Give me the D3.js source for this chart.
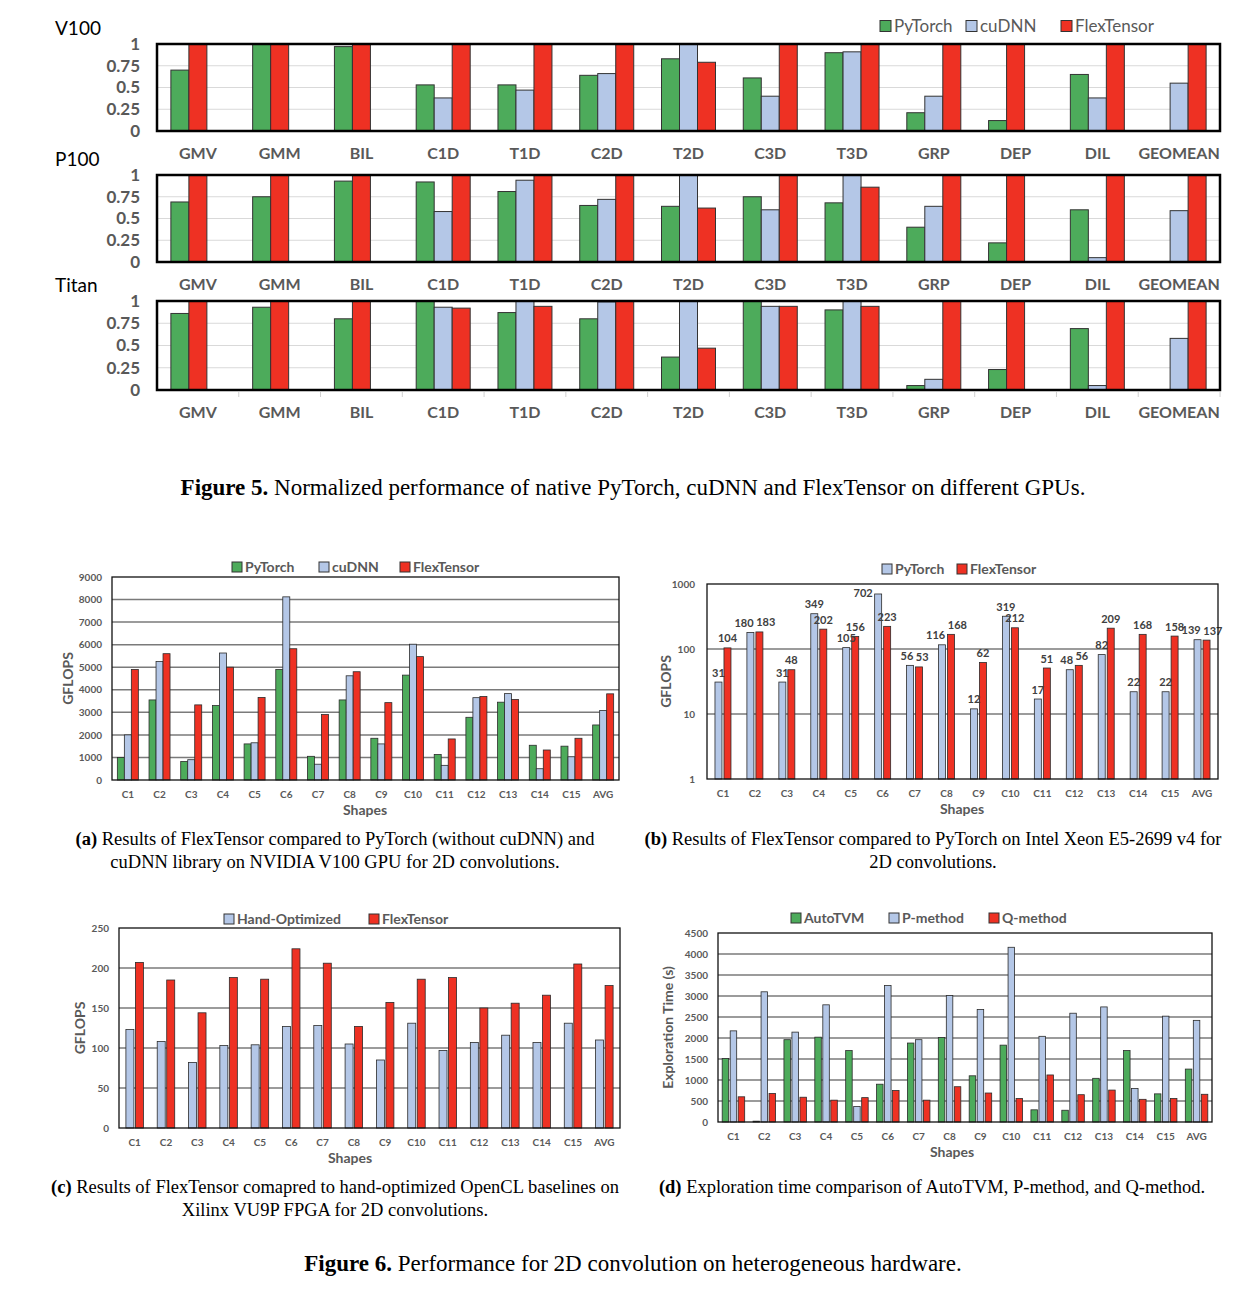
<!DOCTYPE html>
<html lang="en">
<head>
<meta charset="UTF-8">
<title>FlexTensor figures</title>
<script src="https://cdn.jsdelivr.net/npm/d3@7"></script>
<style>
  body { margin: 0; background: #fff; }
  svg text { font-family: Lato, "Open Sans", sans-serif; }
  .cap { font-family: "Liberation Serif", "DejaVu Serif", serif; fill: #000; }
</style>
</head>
<body>
<svg id="chart" width="1250" height="1294"></svg>
<script>
// ---------- Figure 5 data (normalized performance)
const gpuCats = ['GMV', 'GMM', 'BIL', 'C1D', 'T1D', 'C2D', 'T2D', 'C3D', 'T3D', 'GRP', 'DEP', 'DIL', 'GEOMEAN'];
const gpuTicks = [0, 0.25, 0.5, 0.75, 1];
const gpuSeries = ['PyTorch', 'cuDNN', 'FlexTensor'];

const v100Torch = [0.70, 1.00, 0.97, 0.53, 0.53, 0.64, 0.83, 0.61, 0.90, 0.21, 0.12, 0.65, null];
const v100Cudnn = [null, null, null, 0.38, 0.47, 0.66, 1.00, 0.40, 0.91, 0.40, null, 0.38, 0.55];
const v100Flex  = [1, 1, 1, 1, 1, 1, 0.79, 1, 1, 1, 1, 1, 1];

const p100Torch = [0.69, 0.75, 0.93, 0.92, 0.81, 0.65, 0.64, 0.75, 0.68, 0.40, 0.22, 0.60, null];
const p100Cudnn = [null, null, null, 0.58, 0.94, 0.72, 1.00, 0.60, 1.00, 0.64, null, 0.05, 0.59];
const p100Flex  = [1, 1, 1, 1, 1, 1, 0.62, 1, 0.86, 1, 1, 1, 1];

const titanTorch = [0.86, 0.93, 0.80, 1.00, 0.87, 0.80, 0.37, 1.00, 0.90, 0.05, 0.23, 0.69, null];
const titanCudnn = [null, null, null, 0.93, 1.00, 0.99, 1.00, 0.94, 1.00, 0.12, null, 0.05, 0.58];
const titanFlex  = [1, 1, 1, 0.92, 0.94, 1, 0.47, 0.94, 0.94, 1, 1, 1, 1];

// ---------- Figure 6 data
const shapes = ['C1', 'C2', 'C3', 'C4', 'C5', 'C6', 'C7', 'C8', 'C9', 'C10', 'C11', 'C12', 'C13', 'C14', 'C15', 'AVG'];

// (a) V100 GFLOPS
const aTicks = [0, 1000, 2000, 3000, 4000, 5000, 6000, 7000, 8000, 9000];
const aTorch = [1000, 3550, 820, 3300, 1600, 4900, 1050, 3550, 1850, 4650, 1130, 2780, 3450, 1540, 1500, 2440];
const aCudnn = [2000, 5250, 900, 5630, 1650, 8120, 700, 4620, 1600, 6020, 650, 3650, 3830, 500, 1030, 3080];
const aFlex  = [4900, 5600, 3330, 5000, 3660, 5820, 2900, 4800, 3430, 5470, 1820, 3700, 3570, 1330, 1850, 3820];

// (b) Xeon GFLOPS (log scale)
const bTicks = [1, 10, 100, 1000];
const bTorch = [31, 180, 31, 349, 105, 702, 56, 116, 12, 319, 17, 48, 82, 22, 22, 139];
const bFlex  = [104, 183, 48, 202, 156, 223, 53, 168, 62, 212, 51, 56, 209, 168, 158, 137];

// (c) VU9P FPGA GFLOPS
const cTicks = [0, 50, 100, 150, 200, 250];
const cHand = [123, 108, 82, 103, 104, 127, 128, 105, 85, 131, 97, 107, 116, 107, 131, 110];
const cFlex = [207, 185, 144, 188, 186, 224, 206, 127, 157, 186, 188, 150, 156, 166, 205, 178];

// (d) exploration time (s)
const dTicks = [0, 500, 1000, 1500, 2000, 2500, 3000, 3500, 4000, 4500];
const dAuto = [1510, 20, 1960, 2020, 1700, 900, 1880, 2010, 1100, 1830, 290, 280, 1040, 1700, 670, 1260];
const dP    = [2170, 3100, 2140, 2790, 370, 3250, 1960, 3010, 2680, 4160, 2040, 2590, 2740, 800, 2520, 2420];
const dQ    = [600, 680, 590, 520, 580, 750, 520, 840, 690, 560, 1120, 650, 760, 540, 560, 660];

const GREEN = '#4DAB5B', BLUE = '#B4C7E7', RED = '#EE3123', GRAY = '#595959';

const svg = d3.select('#chart');

// ---------- Figure 5 panels
function gpuPanel(name, top, bottom, torch, cudnn, flex, tickMarks) {
  const g = svg.append('g');
  const x = d3.scaleBand().domain(gpuCats).range([157, 1220]);
  const y = d3.scaleLinear().domain([0, 1]).range([bottom, top]);

  g.append('g').selectAll('line').data(gpuTicks.slice(1, -1)).join('line')
    .attr('x1', 157).attr('x2', 1220)
    .attr('y1', d => y(d)).attr('y2', d => y(d))
    .attr('stroke', '#d9d9d9').attr('stroke-width', 1);

  // bars: slots packed, shifted right when PyTorch is missing
  const rows = gpuCats.map((c, i) => {
    const vals = [torch[i], cudnn[i], flex[i]];
    const present = vals.map((v, k) => ({ k, v })).filter(d => d.v != null);
    const start = torch[i] == null ? 1 : 0;
    return present.map((d, j) => ({ cat: c, k: d.k, v: d.v, slot: start + j }));
  }).flat();
  const colors = [GREEN, BLUE, RED];
  const bw = 18;
  g.append('g').selectAll('rect').data(rows).join('rect')
    .attr('x', d => x(d.cat) + x.bandwidth() / 2 - 27 + d.slot * bw)
    .attr('y', d => y(d.v))
    .attr('width', bw)
    .attr('height', d => bottom - y(d.v))
    .attr('fill', d => colors[d.k])
    .attr('stroke', '#333').attr('stroke-width', 1);

  g.append('rect')
    .attr('x', 157).attr('y', top).attr('width', 1220 - 157).attr('height', bottom - top)
    .attr('fill', 'none').attr('stroke', '#000').attr('stroke-width', 2.5);

  if (tickMarks) {
    g.append('g').selectAll('line').data(gpuCats.slice(1).concat(['end'])).join('line')
      .attr('x1', d => d === 'end' ? 1220 : x(d)).attr('x2', d => d === 'end' ? 1220 : x(d))
      .attr('y1', bottom + 2).attr('y2', bottom + 7)
      .attr('stroke', '#d0d0d0').attr('stroke-width', 1);
  }

  const yAxis = g.append('g').attr('transform', 'translate(157,0)')
    .call(d3.axisLeft(y).tickValues(gpuTicks).tickSize(0).tickPadding(17).tickFormat(d => d));
  yAxis.select('.domain').remove();
  yAxis.selectAll('text').attr('font-size', 17).attr('font-weight', 'bold').attr('fill', GRAY)
    .attr('font-family', 'Lato, sans-serif');

  const xAxis = g.append('g').attr('transform', `translate(0,${bottom})`)
    .call(d3.axisBottom(x).tickSize(0).tickPadding(17));
  xAxis.select('.domain').remove();
  xAxis.selectAll('text').attr('font-size', 16).attr('font-weight', 'bold').attr('fill', GRAY)
    .attr('font-family', 'Lato, sans-serif');

  g.append('text').attr('x', 55).attr('y', top - 16).attr('dy', '0.35em')
    .attr('font-size', 19).attr('fill', '#000').text(name);
}

gpuPanel('V100', 44, 131, v100Torch, v100Cudnn, v100Flex, false);
gpuPanel('P100', 175, 262, p100Torch, p100Cudnn, p100Flex, false);
gpuPanel('Titan', 301, 390, titanTorch, titanCudnn, titanFlex, true);

function legend(items, y, size, fontSize, bold) {
  const g = svg.append('g');
  items.forEach(it => {
    g.append('rect').attr('x', it.x).attr('y', y - size / 2).attr('width', size).attr('height', size)
      .attr('fill', it.color).attr('stroke', '#333').attr('stroke-width', 1);
    g.append('text').attr('x', it.x + size + 3).attr('y', y).attr('dy', '0.35em')
      .attr('font-size', fontSize).attr('font-weight', bold ? 'bold' : 'normal')
      .attr('fill', GRAY).text(it.name);
  });
}

legend([
  { name: gpuSeries[0], color: GREEN, x: 880 },
  { name: gpuSeries[1], color: BLUE, x: 966 },
  { name: gpuSeries[2], color: RED, x: 1061 }
], 26, 11, 17, false);

// ---------- Figure 6 panels
function shapePanel(cfg) {
  const g = svg.append('g');
  const x = d3.scaleBand().domain(shapes).range([cfg.left, cfg.right]);
  const y = cfg.log
    ? d3.scaleLog().domain([cfg.ticks[0], cfg.ticks[cfg.ticks.length - 1]]).range([cfg.bottom, cfg.top])
    : d3.scaleLinear().domain([0, cfg.ticks[cfg.ticks.length - 1]]).range([cfg.bottom, cfg.top]);

  g.append('g').selectAll('line').data(cfg.ticks.slice(1, -1)).join('line')
    .attr('x1', cfg.left).attr('x2', cfg.right)
    .attr('y1', d => y(d)).attr('y2', d => y(d))
    .attr('stroke', '#7a7a7a').attr('stroke-width', 1.5);

  const n = cfg.series.length;
  const groupW = n * cfg.barW + (n - 1) * cfg.gap;
  const bx = (k, i) => x(shapes[i]) + x.bandwidth() / 2 - groupW / 2 + k * (cfg.barW + cfg.gap);
  cfg.series.forEach((s, k) => {
    g.append('g').selectAll('rect').data(s.values).join('rect')
      .attr('x', (d, i) => bx(k, i))
      .attr('y', d => y(d))
      .attr('width', cfg.barW)
      .attr('height', d => cfg.bottom - y(d))
      .attr('fill', s.color)
      .attr('stroke', '#2b2b2b').attr('stroke-width', 0.8);
  });

  if (cfg.labels) {
    // value labels above bars; pairs pushed apart when they would collide,
    // and moved beside the bar when they would hit the top border
    const lw = v => String(v).length * 6.6;
    const lab = [];
    shapes.forEach((c, i) => {
      const a = cfg.series[0].values[i], b = cfg.series[1].values[i];
      let ca = bx(0, i) + cfg.barW / 2, cb = bx(1, i) + cfg.barW / 2;
      const ya = y(a) - 5.5, yb = y(b) - 5.5;
      const over = (lw(a) + lw(b)) / 2 + 2 - (cb - ca);
      if (over > 0 && Math.abs(ya - yb) < 11) { ca -= over / 2; cb += over / 2; }
      lab.push({ v: a, x: ca, y: ya, bx: bx(0, i), top: y(a) });
      lab.push({ v: b, x: cb, y: yb, bx: bx(1, i), top: y(b) });
    });
    lab.forEach(d => {
      if (d.y - 9 < cfg.top) { d.anchor = 'end'; d.x = d.bx - 2; d.y = d.top + 3; } else d.anchor = 'middle';
    });
    g.append('g').selectAll('text').data(lab).join('text')
      .attr('x', d => d.x).attr('y', d => d.y)
      .attr('text-anchor', d => d.anchor)
      .attr('font-size', 11).attr('font-weight', 'bold').attr('fill', '#404040')
      .text(d => d.v);
  }

  g.append('rect')
    .attr('x', cfg.left).attr('y', cfg.top).attr('width', cfg.right - cfg.left).attr('height', cfg.bottom - cfg.top)
    .attr('fill', 'none').attr('stroke', '#111').attr('stroke-width', 1.3);

  const yAxis = g.append('g').attr('transform', `translate(${cfg.left},0)`)
    .call(d3.axisLeft(y).tickValues(cfg.ticks).tickSize(0).tickPadding(cfg.tickPad || 10).tickFormat(d => d));
  yAxis.select('.domain').remove();
  yAxis.selectAll('text').attr('font-size', 10).attr('font-weight', 'bold').attr('fill', GRAY)
    .attr('font-family', 'Lato, sans-serif');

  const xAxis = g.append('g').attr('transform', `translate(0,${cfg.bottom})`)
    .call(d3.axisBottom(x).tickSize(0).tickPadding(11));
  xAxis.select('.domain').remove();
  xAxis.selectAll('text').attr('font-size', 10).attr('font-weight', 'bold').attr('fill', GRAY)
    .attr('font-family', 'Lato, sans-serif');

  g.append('text').attr('x', cfg.shapesX).attr('y', cfg.bottom + 30).attr('dy', '0.35em')
    .attr('text-anchor', 'middle').attr('font-size', 14).attr('font-weight', 'bold').attr('fill', GRAY)
    .text('Shapes');

  g.append('text')
    .attr('transform', `translate(${cfg.titleX},${(cfg.top + cfg.bottom) / 2}) rotate(-90)`)
    .attr('dy', '0.35em').attr('text-anchor', 'middle')
    .attr('font-size', 14).attr('font-weight', 'bold').attr('fill', GRAY)
    .text(cfg.title);

  legend(cfg.legend, cfg.legendY, 10, 14, true);
}

shapePanel({
  left: 112, right: 619, top: 577, bottom: 780, ticks: aTicks, barW: 7, gap: 0,
  series: [{ values: aTorch, color: GREEN }, { values: aCudnn, color: BLUE }, { values: aFlex, color: RED }],
  title: 'GFLOPS', titleX: 68, shapesX: 365, legendY: 567,
  legend: [{ name: 'PyTorch', color: GREEN, x: 232 }, { name: 'cuDNN', color: BLUE, x: 319 }, { name: 'FlexTensor', color: RED, x: 400 }]
});

shapePanel({
  left: 707, right: 1218, top: 584, bottom: 779, ticks: bTicks, log: true, barW: 7, gap: 2, labels: true,
  tickPad: 12,
  series: [{ values: bTorch, color: BLUE }, { values: bFlex, color: RED }],
  title: 'GFLOPS', titleX: 666, shapesX: 962, legendY: 569,
  legend: [{ name: 'PyTorch', color: BLUE, x: 882 }, { name: 'FlexTensor', color: RED, x: 957 }]
});

shapePanel({
  left: 119, right: 620, top: 928, bottom: 1128, ticks: cTicks, barW: 8, gap: 1.5,
  series: [{ values: cHand, color: BLUE }, { values: cFlex, color: RED }],
  title: 'GFLOPS', titleX: 80, shapesX: 350, legendY: 919,
  legend: [{ name: 'Hand-Optimized', color: BLUE, x: 224 }, { name: 'FlexTensor', color: RED, x: 369 }]
});

shapePanel({
  left: 718, right: 1212, top: 933, bottom: 1122, ticks: dTicks, barW: 6.5, gap: 1.5,
  series: [{ values: dAuto, color: GREEN }, { values: dP, color: BLUE }, { values: dQ, color: RED }],
  title: 'Exploration Time (s)', titleX: 668, shapesX: 952, legendY: 918,
  legend: [{ name: 'AutoTVM', color: GREEN, x: 791 }, { name: 'P-method', color: BLUE, x: 889 }, { name: 'Q-method', color: RED, x: 989 }]
});

// ---------- captions
function caption(lines, cx, y0, size, lh) {
  lines.forEach((ln, i) => {
    const t = svg.append('text').attr('class', 'cap').attr('x', cx).attr('y', y0 + i * lh)
      .attr('dy', '0.35em').attr('text-anchor', 'middle').attr('font-size', size);
    if (ln.bold) t.append('tspan').attr('font-weight', 'bold').text(ln.bold);
    t.append('tspan').text(ln.text);
  });
}

caption([{ bold: 'Figure 5.', text: ' Normalized performance of native PyTorch, cuDNN and FlexTensor on different GPUs.' }], 633, 487, 23, 0);
caption([
  { bold: '(a)', text: ' Results of FlexTensor compared to PyTorch (without cuDNN) and' },
  { text: 'cuDNN library on NVIDIA V100 GPU for 2D convolutions.' }
], 335, 839, 18.5, 23);
caption([
  { bold: '(b)', text: ' Results of FlexTensor compared to PyTorch on Intel Xeon E5-2699 v4 for' },
  { text: '2D convolutions.' }
], 933, 839, 18.5, 23);
caption([
  { bold: '(c)', text: ' Results of FlexTensor comapred to hand-optimized OpenCL baselines on' },
  { text: 'Xilinx VU9P FPGA for 2D convolutions.' }
], 335, 1187, 18.5, 23);
caption([{ bold: '(d)', text: ' Exploration time comparison of AutoTVM, P-method, and Q-method.' }], 932, 1187, 18.5, 0);
caption([{ bold: 'Figure 6.', text: ' Performance for 2D convolution on heterogeneous hardware.' }], 633, 1263, 23, 0);
</script>
</body>
</html>
